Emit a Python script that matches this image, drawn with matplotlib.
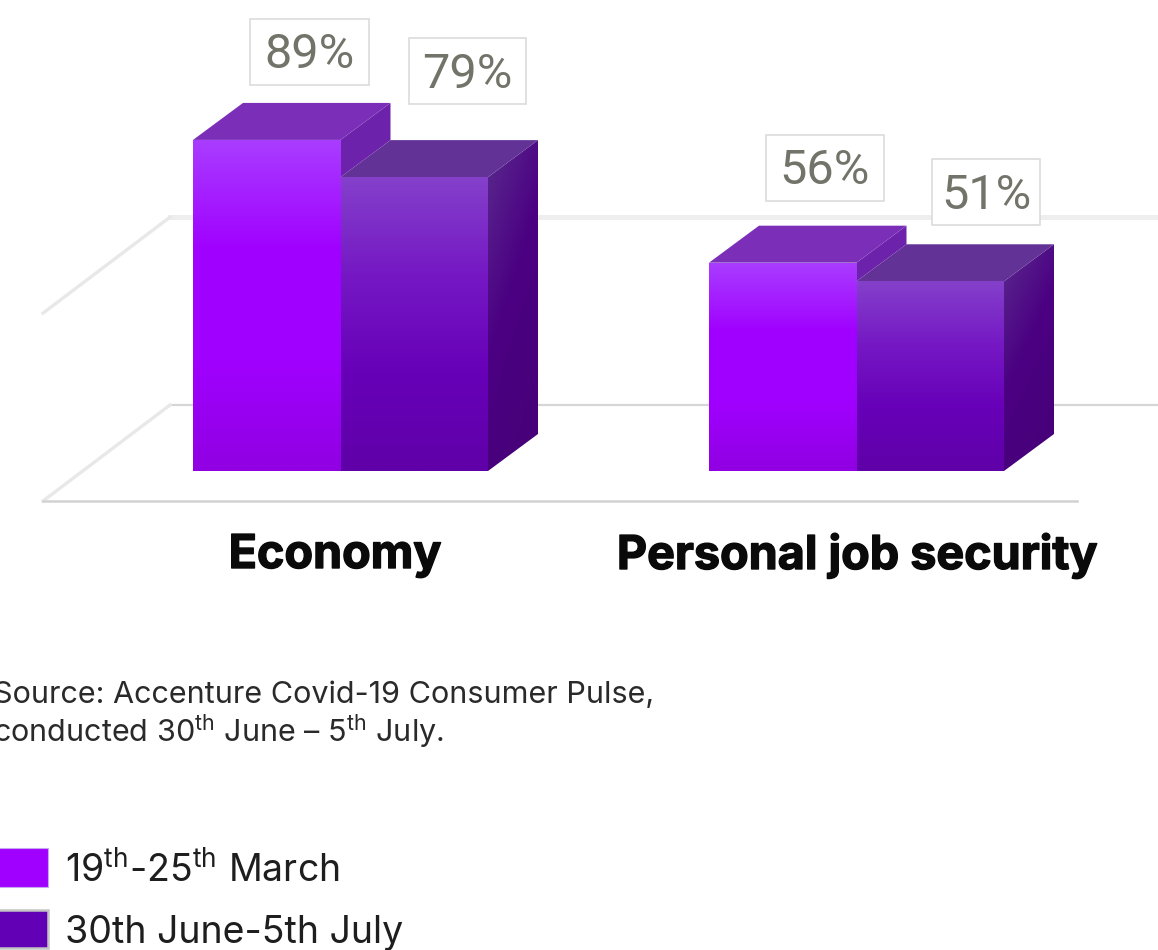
import numpy as np
import matplotlib
matplotlib.use("Agg")
import matplotlib.pyplot as plt
import matplotlib.patheffects as pe
from matplotlib.colors import LinearSegmentedColormap
from matplotlib.patches import Polygon, Rectangle

# Survey results, percent of respondents
categories = ["Economy", "Personal job security"]
series_names = ["19$^{\\mathrm{th}}$-25$^{\\mathrm{th}}$ March", "30th June-5th July"]
march_values = [89, 56]
july_values = [79, 51]
source_lines = ["Source: Accenture Covid-19 Consumer Pulse,",
                "conducted 30$^{\\mathrm{th}}$ June – 5$^{\\mathrm{th}}$ July."]

plt.rcParams["font.family"] = ["Inter", "DejaVu Sans"]
plt.rcParams["mathtext.fontset"] = "custom"
plt.rcParams["mathtext.rm"] = "Inter"

W, H = 1158, 950
BASE_PX = 471          # row of the bars' front base
PX_PER_UNIT = 3.72     # vertical pixels per percentage point
DEPTH_X, DEPTH_Y = 50, 37 / PX_PER_UNIT

fig = plt.figure(figsize=(W / 100, H / 100), dpi=100, facecolor="white")
ax = fig.add_axes([0, 0, 1, 1])
ylim = (-(H - BASE_PX) / PX_PER_UNIT, BASE_PX / PX_PER_UNIT)


def px(row):
    """Convert an image row to a y value on the percentage axis."""
    return (BASE_PX - row) / PX_PER_UNIT


def gradient_poly(points, stops, angle=90, z=2):
    """Fill a polygon with a linear gradient clipped to its outline."""
    pts = np.asarray(points, float)
    x0, x1 = pts[:, 0].min(), pts[:, 0].max()
    y0, y1 = pts[:, 1].min(), pts[:, 1].max()
    xx, yy = np.meshgrid(np.linspace(0, 1, 64), np.linspace(1, 0, 256))
    if angle == 90:
        t = 1 - yy
    else:
        t = np.clip((1 - yy) * 0.75 + xx * 0.35, 0, 1)
    cmap = LinearSegmentedColormap.from_list("g", stops)
    im = ax.imshow(t, cmap=cmap, vmin=0, vmax=1, extent=(x0, x1, y0, y1),
                   aspect="auto", zorder=z, interpolation="bilinear")
    clip = Polygon(pts, closed=True, transform=ax.transData,
                   facecolor="none", edgecolor="none")
    ax.add_patch(clip)
    im.set_clip_path(clip)


# Chart walls: grid rows at 0 and 50 on the back plane, slanting to the front
WALL_LEFT, WALL_BACK, FLOOR_LEFT, FLOOR_RIGHT = 170, px(405), 43, 1077
GRID_VALUES = [0, 50]
for g in GRID_VALUES:
    back = WALL_BACK + g * 1.01
    front = back - 96 / PX_PER_UNIT
    lw, col = (1.6, "#d6d6d6") if g == 0 else (3.6, "#eeeeee")
    ax.plot([WALL_LEFT, W], [back, back], color=col, lw=lw, zorder=1)
    ax.plot([FLOOR_LEFT, WALL_LEFT], [front, back], color="#e8e8e8", lw=2.4, zorder=1)
ax.plot([FLOOR_LEFT, FLOOR_RIGHT], [px(501), px(501)], color="#d2d2d2", lw=1.8, zorder=1)

# Paired 3D columns; the later series sits to the right and is drawn first
GROUP_LEFT = [193, 709]
BAR_W = 147.5
FRONT_A = ["#a93dff", "#a000ff", "#a000ff", "#9000e2"]
FRONT_B = ["#8440cb", "#7518c4", "#6700b8", "#5f00a8"]
SIDE_B = ["#5a2a8e", "#4b0082", "#470079"]

for left, a, b in zip(GROUP_LEFT, march_values, july_values):
    xb0, xb1 = left + BAR_W, left + 2 * BAR_W
    # later series
    gradient_poly([(xb1, 0), (xb1 + DEPTH_X, DEPTH_Y), (xb1 + DEPTH_X, b + DEPTH_Y), (xb1, b)],
                  SIDE_B, angle=45, z=2)
    ax.add_patch(Polygon([(xb0, b), (xb1, b), (xb1 + DEPTH_X, b + DEPTH_Y), (xb0 + DEPTH_X, b + DEPTH_Y)],
                         facecolor="#623296", edgecolor="none", zorder=3))
    gradient_poly([(xb0, 0), (xb1, 0), (xb1, b), (xb0, b)], FRONT_B, z=4)
    # earlier series
    xa0, xa1 = left, left + BAR_W
    ax.add_patch(Polygon([(xa1, max(b, 0)), (xa1 + DEPTH_X, b + DEPTH_Y), (xa1 + DEPTH_X, a + DEPTH_Y), (xa1, a)],
                         facecolor="#6d22ab", edgecolor="none", zorder=5))
    ax.add_patch(Polygon([(xa0, a), (xa1, a), (xa1 + DEPTH_X, a + DEPTH_Y), (xa0 + DEPTH_X, a + DEPTH_Y)],
                         facecolor="#7b2fb9", edgecolor="none", zorder=5))
    gradient_poly([(xa0, 0), (xa1, 0), (xa1, a), (xa0, a)], FRONT_A, z=6)

# Boxed value labels above each column
LABEL_X = [[309.5, 825], [467.5, 986]]
LABEL_LIFT = [[88, 95], [106, 89]]
BOX_W = [[119, 118], [117, 108]]
BOX_H = 66 / PX_PER_UNIT
for vals, xs, lifts, widths in zip([march_values, july_values], LABEL_X, LABEL_LIFT, BOX_W):
    for v, x, lift, bw in zip(vals, xs, lifts, widths):
        yc = v + lift / PX_PER_UNIT
        ax.add_patch(Rectangle((x - bw / 2, yc - BOX_H / 2), bw, BOX_H, facecolor="white",
                               edgecolor="#d8d8d8", linewidth=1.1, zorder=7))
        ax.text(x, yc + 0.4, f"{v}%", ha="center", va="center_baseline",
                family="Roboto", fontsize=35, color="#72746a", zorder=8)

# Category names under the floor
CATEGORY_X = [335, 857]
for name, x in zip(categories, CATEGORY_X):
    ax.text(x, px(556), name, ha="center", va="center", fontsize=33.6,
            fontweight="bold", color="#0a0a0a", zorder=8,
            path_effects=[pe.withStroke(linewidth=1.0, foreground="#0a0a0a")])

# Source note, running off the left edge
for line, row in zip(source_lines, [695, 732]):
    ax.text(-7, px(row), line, ha="left", va="center", fontsize=22, color="#2a2a2a")

# Legend
SWATCH_ROWS = [(848, 887), (910, 948)]
SWATCH_COLORS = ["#a000ff", "#6200b5"]
SWATCH_EDGES = ["#c8a6f0", "#c4c4c4"]
SWATCH_WIDTHS = [0.8, 1.8]
for name, (r0, r1), col, edge, lw in zip(series_names, SWATCH_ROWS, SWATCH_COLORS,
                                         SWATCH_EDGES, SWATCH_WIDTHS):
    ax.add_patch(Rectangle((-10, px(r1)), 58, (r1 - r0) / PX_PER_UNIT, facecolor=col,
                           edgecolor=edge, linewidth=lw))
    ax.text(65, px((r0 + r1) / 2 + 4), name, ha="left", va="center", fontsize=27, color="#1e1e1e")

ax.set_xlim(0, W)
ax.set_ylim(*ylim)
ax.axis("off")
fig.savefig("out.png", dpi=100, facecolor="white")
